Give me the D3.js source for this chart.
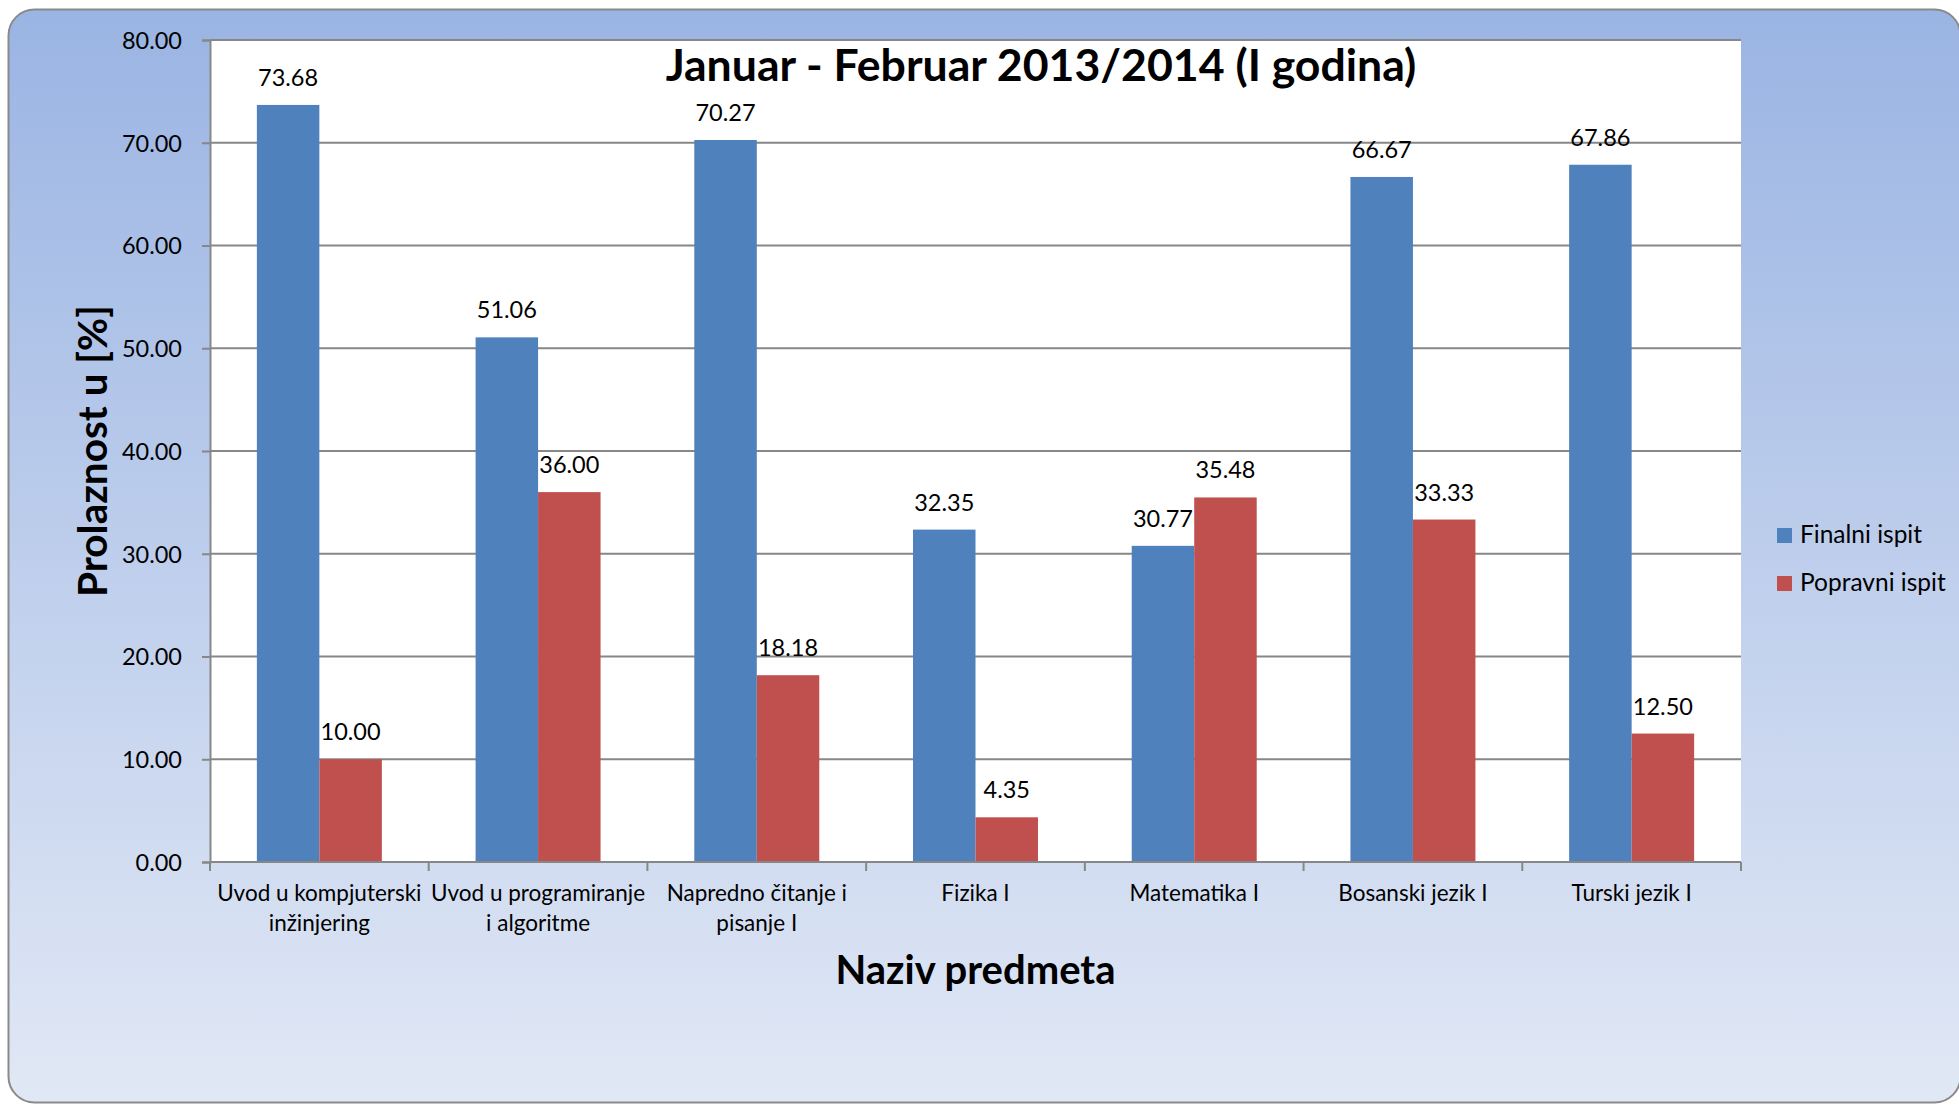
<!DOCTYPE html>
<html>
<head>
<meta charset="utf-8">
<script src="https://cdn.jsdelivr.net/npm/d3@7"></script>
<style>
    body { margin: 0; background: #ffffff; }
    #chart { width: 1959px; height: 1105px; }
    text { font-family: Calibri, Carlito, Lato, sans-serif; fill: #000; }
</style>
</head>
<body>
<div id="chart"></div>
<script>
//Datos
const categories = ['Uvod u kompjuterski\ninžinjering', 'Uvod u programiranje\ni algoritme', 'Napredno čitanje i\npisanje I', 'Fizika I', 'Matematika I', 'Bosanski jezik I', 'Turski jezik I'];
const seriesNames = ['Finalni ispit', 'Popravni ispit'];
const finalni = [73.68, 51.06, 70.27, 32.35, 30.77, 66.67, 67.86];
const popravni = [10.00, 36.00, 18.18, 4.35, 35.48, 33.33, 12.50];
const yTicks = [0, 10, 20, 30, 40, 50, 60, 70, 80];

const chartTitle = 'Januar - Februar 2013/2014 (I godina)';
const yTitle = 'Prolaznost u [%]';
const xTitle = 'Naziv predmeta';

//Colores
const COLOR_BLUE = '#4F81BD',
COLOR_RED = '#C0504D',
COLOR_GRID = '#878787';

let data = categories.map(function(c, i) {
    return { cat: c, values: [finalni[i], popravni[i]] };
});

let W = 1959, H = 1105;
let margin = {top: 40, right: 218, bottom: 243, left: 210},
    width = W - margin.left - margin.right,
    height = H - margin.top - margin.bottom;

let root = d3.select('#chart')
    .append('svg')
        .attr('width', W)
        .attr('height', H);

//Fondo degradado
let defs = root.append('defs');
let grad = defs.append('linearGradient')
    .attr('id', 'bg')
    .attr('x1', 0).attr('y1', 0).attr('x2', 0).attr('y2', 1);
grad.append('stop').attr('offset', '0%').attr('stop-color', '#9AB4E3');
grad.append('stop').attr('offset', '100%').attr('stop-color', '#E1E8F5');

root.append('rect')
    .attr('x', 8.5)
    .attr('y', 9.5)
    .attr('width', 1952)
    .attr('height', 1093)
    .attr('rx', 26)
    .attr('fill', 'url(#bg)')
    .attr('stroke', '#8A8A8A')
    .attr('stroke-width', 2);

let svg = root.append('g')
    .attr('transform', 'translate(' + margin.left + ',' + margin.top + ')');

//Escalas
let x0 = d3.scaleBand()
    .domain(categories)
    .range([0, width])
    .padding(0);

let x1 = d3.scaleBand()
    .domain(seriesNames)
    .range([0, x0.bandwidth()])
    .paddingInner(0)
    .paddingOuter(0.75);

let y = d3.scaleLinear()
    .domain([0, 80])
    .range([height, 0]);

let color = d3.scaleOrdinal()
    .domain(seriesNames)
    .range([COLOR_BLUE, COLOR_RED]);

//Area del grafico
svg.append('rect')
    .attr('width', width)
    .attr('height', height)
    .attr('fill', '#ffffff');

//Eje Y con rejilla
let yAxis = svg.append('g')
    .call(d3.axisLeft(y).tickValues(yTicks).tickSize(8).tickPadding(20).tickFormat(d3.format('.2f')));
yAxis.select('.domain').attr('stroke', COLOR_GRID).attr('stroke-width', 2);
yAxis.selectAll('.tick line').attr('stroke', COLOR_GRID).attr('stroke-width', 2);
yAxis.selectAll('.tick text')
    .style('font-family', 'Lato, sans-serif')
    .style('font-size', '23.5px')
    .attr('dy', '0.36em');

svg.append('g')
    .selectAll('line')
    .data(yTicks.filter(function(d) { return d > 0; }))
    .enter()
    .append('line')
    .attr('x1', 0)
    .attr('x2', width)
    .attr('y1', function(d) { return y(d); })
    .attr('y2', function(d) { return y(d); })
    .attr('stroke', COLOR_GRID)
    .attr('stroke-width', 2);

//Barras
let groups = svg.selectAll('.grupo')
    .data(data)
    .enter()
    .append('g')
    .attr('class', 'grupo')
    .attr('transform', function(d) { return 'translate(' + x0(d.cat) + ',0)'; });

groups.selectAll('rect')
    .data(function(d) { return d.values.map(function(v, i) { return {name: seriesNames[i], value: v}; }); })
    .enter()
    .append('rect')
    .attr('x', function(d) { return x1(d.name); })
    .attr('y', function(d) { return y(d.value); })
    .attr('width', x1.bandwidth())
    .attr('height', function(d) { return height - y(d.value); })
    .attr('fill', function(d) { return color(d.name); });

//Etiquetas de valores
groups.selectAll('.valor')
    .data(function(d) { return d.values.map(function(v, i) { return {name: seriesNames[i], value: v}; }); })
    .enter()
    .append('text')
    .attr('class', 'valor')
    .attr('x', function(d) { return x1(d.name) + x1.bandwidth() / 2; })
    .attr('y', function(d) { return y(d.value) - 19; })
    .attr('text-anchor', 'middle')
    .style('font-family', 'Lato, sans-serif')
    .style('font-size', '23.5px')
    .text(function(d) { return d3.format('.2f')(d.value); });

//Eje X
let xAxis = svg.append('g')
    .attr('transform', 'translate(0,' + height + ')');
xAxis.append('line')
    .attr('x1', 0).attr('x2', width)
    .attr('stroke', COLOR_GRID).attr('stroke-width', 2);
xAxis.selectAll('.sep')
    .data(categories.concat(['_end']))
    .enter()
    .append('line')
    .attr('class', 'sep')
    .attr('x1', function(d, i) { return i * x0.step(); })
    .attr('x2', function(d, i) { return i * x0.step(); })
    .attr('y1', 0)
    .attr('y2', 9)
    .attr('stroke', COLOR_GRID)
    .attr('stroke-width', 2);

let catLabels = xAxis.selectAll('.cat')
    .data(categories)
    .enter()
    .append('text')
    .attr('class', 'cat')
    .attr('text-anchor', 'middle')
    .attr('transform', function(d) { return 'translate(' + (x0(d) + x0.bandwidth() / 2) + ',39)'; })
    .style('font-family', 'Lato, sans-serif')
    .style('font-size', '22.5px');

catLabels.selectAll('tspan')
    .data(function(d) { return d.split('\n'); })
    .enter()
    .append('tspan')
    .attr('x', 0)
    .attr('y', function(d, i) { return i * 30; })
    .text(function(d) { return d; });

//Titulos
root.append('text')
    .attr('x', 1041)
    .attr('y', 81)
    .attr('text-anchor', 'middle')
    .style('font-family', 'Lato, sans-serif')
    .style('font-weight', 'bold')
    .style('font-size', '44.6px')
    .text(chartTitle);

root.append('text')
    .attr('transform', 'translate(107,' + (margin.top + height / 2) + ') rotate(-90)')
    .attr('text-anchor', 'middle')
    .style('font-family', 'Lato, sans-serif')
    .style('font-weight', 'bold')
    .style('font-size', '40.5px')
    .text(yTitle);

root.append('text')
    .attr('x', margin.left + width / 2)
    .attr('y', 984)
    .attr('text-anchor', 'middle')
    .style('font-family', 'Lato, sans-serif')
    .style('font-weight', 'bold')
    .style('font-size', '40px')
    .text(xTitle);

//Leyenda
let legend = root.append('g')
    .attr('transform', 'translate(1777,528)');

let items = legend.selectAll('.item')
    .data(seriesNames)
    .enter()
    .append('g')
    .attr('class', 'item')
    .attr('transform', function(d, i) { return 'translate(0,' + (i * 48) + ')'; });

items.append('rect')
    .attr('width', 15)
    .attr('height', 15)
    .attr('fill', function(d) { return color(d); });

items.append('text')
    .attr('x', 23)
    .attr('y', 15)
    .style('font-family', 'Lato, sans-serif')
    .style('font-size', '24.5px')
    .text(function(d) { return d; });
</script>
</body>
</html>
